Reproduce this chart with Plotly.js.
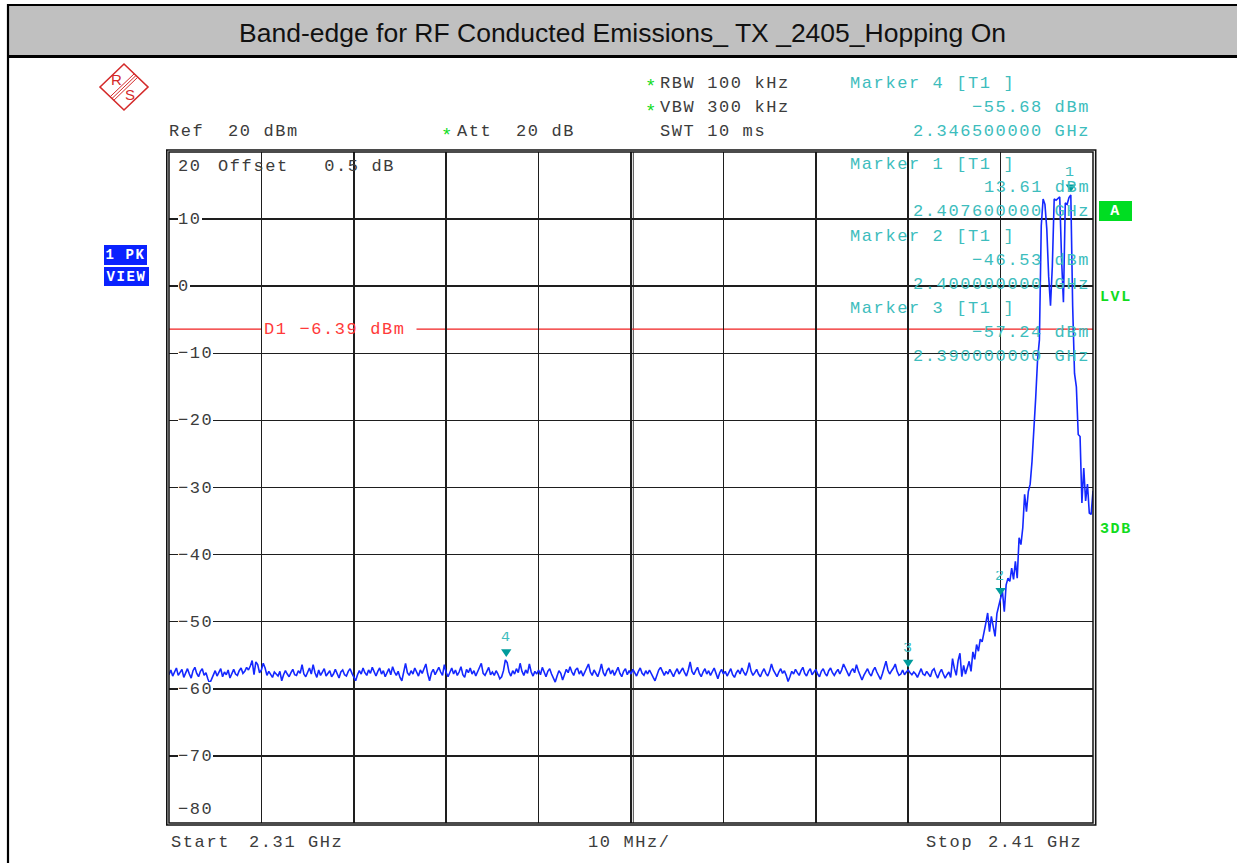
<!DOCTYPE html>
<html>
<head>
<meta charset="utf-8">
<script src="https://cdn.plot.ly/plotly-3.0.1.min.js"></script>
<style>
html,body{margin:0;padding:0;background:#fff;}
#chart{width:1237px;height:863px;}
.annotation-text{letter-spacing:1.6px;}
</style>
</head>
<body>
<div id="chart"></div>
<script>
// ---------------- DATA ----------------
const titleText = 'Band-edge for RF Conducted Emissions_ TX _2405_Hopping On';
const startGHz = 2.31;
const stopGHz = 2.41;
const sweepPoints = 501;
// trace 1 (peak detector) level in dBm, one value per sweep point (0.2 MHz apart)
const levelDbm = [
-57.9,-57.2,-58.1,-57.4,-56.9,-58.0,-57.6,-57.1,-58.3,-57.5,-57.0,-57.8,-58.4,-57.3,-56.8,-57.7,-58.2,-57.4,-57.0,-58.0,-57.6,-58.5,-59.2,-58.6,-57.8,
-57.3,-58.1,-57.6,-57.0,-58.2,-57.5,-57.9,-57.2,-58.4,-57.6,-57.1,-57.8,-58.0,-57.3,-56.9,-57.7,-57.4,-56.8,-57.2,-56.6,-55.8,-57.9,-56.0,-56.4,-57.6,
-57.2,-56.2,-56.9,-58.0,-57.4,-57.9,-58.3,-57.5,-57.8,-58.1,-57.4,-58.8,-57.9,-57.3,-57.8,-58.2,-57.6,-57.1,-57.9,-58.0,-57.3,-57.7,-56.4,-57.8,-58.2,
-57.5,-56.9,-57.8,-56.4,-57.6,-58.3,-57.2,-58.0,-57.5,-57.0,-58.1,-57.7,-57.3,-58.2,-57.8,-57.1,-57.9,-58.4,-57.5,-57.2,-57.9,-58.1,-57.4,-57.0,-57.7,
-58.2,-58.8,-57.9,-57.3,-57.8,-56.9,-57.6,-58.0,-57.2,-57.7,-56.8,-57.5,-58.1,-57.4,-56.9,-57.8,-57.3,-58.2,-57.6,-57.0,-57.9,-56.7,-57.5,-58.0,-57.4,
-58.3,-58.8,-57.4,-56.2,-57.6,-58.0,-57.3,-57.8,-56.9,-57.5,-58.1,-57.2,-57.7,-57.0,-56.3,-57.8,-58.8,-57.6,-57.1,-57.9,-57.3,-56.8,-57.5,-58.0,-56.4,
-57.6,-58.2,-57.4,-56.9,-57.8,-57.2,-58.0,-57.5,-56.7,-57.9,-58.3,-57.1,-57.6,-56.9,-57.8,-57.3,-58.1,-57.5,-57.0,-56.2,-57.7,-58.0,-57.4,-56.8,-57.9,
-57.5,-58.0,-57.3,-57.8,-58.5,-58.2,-57.3,-55.7,-56.1,-57.5,-58.1,-57.3,-57.8,-57.0,-57.6,-56.2,-57.4,-58.0,-57.2,-57.7,-56.3,-57.5,-58.1,-57.4,-57.8,
-57.2,-57.9,-56.8,-57.6,-58.2,-57.4,-57.0,-57.8,-58.3,-59.0,-58.1,-57.3,-57.7,-58.7,-57.9,-57.1,-57.6,-56.7,-57.5,-58.0,-57.2,-56.9,-57.8,-57.3,-58.1,
-57.4,-57.0,-56.3,-57.5,-58.0,-57.2,-57.7,-58.2,-57.4,-56.3,-57.6,-58.1,-57.3,-56.9,-57.8,-57.2,-58.0,-57.5,-56.8,-57.7,-58.2,-57.4,-57.0,-57.9,-57.3,
-57.8,-57.1,-57.6,-58.1,-57.4,-56.9,-57.7,-58.0,-57.3,-57.8,-57.2,-57.9,-58.3,-58.8,-57.8,-57.2,-56.8,-57.5,-58.0,-57.4,-57.8,-57.1,-57.6,-58.2,-57.5,
-57.0,-57.8,-57.3,-56.9,-57.6,-58.1,-57.2,-56.0,-57.4,-57.9,-57.3,-56.8,-57.7,-58.2,-57.5,-57.0,-57.8,-57.3,-58.0,-57.4,-56.9,-57.7,-58.5,-57.6,-57.1,
-57.8,-57.4,-58.1,-57.5,-57.0,-57.9,-58.3,-57.6,-57.2,-57.8,-56.9,-57.5,-58.0,-57.3,-56.1,-57.4,-58.0,-57.6,-57.1,-57.8,-58.2,-57.5,-57.0,-57.7,-58.1,
-57.4,-56.3,-57.2,-57.8,-58.2,-57.5,-57.0,-57.7,-57.3,-58.0,-58.9,-58.2,-57.4,-57.8,-57.1,-57.6,-58.0,-57.3,-56.8,-57.7,-58.1,-57.4,-57.0,-57.9,-57.5,
-57.1,-57.8,-58.2,-57.4,-57.0,-57.7,-58.1,-57.3,-56.9,-57.6,-58.0,-57.5,-57.1,-57.8,-57.2,-56.3,-57.0,-57.7,-58.1,-57.4,-57.0,-57.6,-56.4,-57.3,-57.9,
-58.7,-58.0,-57.4,-57.0,-57.7,-58.1,-57.3,-56.8,-57.5,-58.2,-58.6,-57.8,-57.0,-55.9,-57.2,-57.8,-57.3,-56.9,-56.3,-57.4,-58.0,-57.8,-57.2,-57.9,-57.5,
-57.2,-57.6,-57.9,-57.5,-57.8,-58.3,-57.6,-57.0,-57.8,-58.0,-57.4,-57.9,-58.2,-57.3,-57.0,-57.8,-58.4,-57.6,-57.1,-57.8,-58.4,-57.9,-57.5,-58.3,-55.5,
-57.0,-58.0,-55.8,-54.7,-58.2,-56.5,-57.8,-56.9,-55.9,-57.4,-54.5,-55.6,-53.4,-54.4,-52.6,-53.0,-51.8,-50.2,-48.7,-51.5,-49.2,-50.5,-52.2,-48.8,-47.4,
-46.5,-45.5,-48.5,-44.5,-43.5,-44.0,-42.0,-43.7,-41.0,-43.5,-37.5,-38.5,-36.0,-31.0,-33.6,-30.6,-29.5,-26.1,-21.8,-16.6,-11.0,-8.0,9.0,13.0,12.2,
8.5,1.5,-2.9,3.0,13.0,12.8,13.0,13.3,4.0,-2.4,12.4,12.2,13.2,13.6,-3.0,-13.0,-15.0,-22.1,-22.4,-32.3,-27.1,-32.0,-29.5,-33.8,-34.0,-30.5
];
// markers
const markerId = ['1', '2', '3', '4'];
const markerFreqGHz = [2.4076, 2.4000, 2.3900, 2.3465];
const markerLevelDbm = [13.61, -46.53, -57.24, -55.68];
const markerListOrder = [3, 0, 1, 2]; // Marker 4, Marker 1, Marker 2, Marker 3
// display line
const displayLineName = 'D1';
const displayLineDbm = -6.39;
// y-axis level labels
const yTickVals = [20, 10, 0, -10, -20, -30, -40, -50, -60, -70, -80];
const yTickText = ['20', '10', '0', '\u221210', '\u221220', '\u221230', '\u221240', '\u221250', '\u221260', '\u221270', '\u221280'];
// instrument settings text
const refText = 'Ref  20 dBm';
const attText = 'Att  20 dB';
const rbwText = 'RBW 100 kHz';
const vbwText = 'VBW 300 kHz';
const swtText = 'SWT 10 ms';
const offsetText = 'Offset   0.5 dB';
const startLabel = ['Start', '2.31 GHz'];
const spanLabel = '10 MHz/';
const stopLabel = ['Stop', '2.41 GHz'];

// ---------------- BUILD ----------------
const freqGHz = levelDbm.map((_, i) => startGHz + i * (stopGHz - startGHz) / (sweepPoints - 1));

const L = 169, R = 1093, T = 152, B = 823;
const px = x => (x - L) / (R - L);
const py = y => (B - y) / (B - T);
const MONO = 'Liberation Mono, DejaVu Sans Mono, monospace';
const GRAY = '#3c3c3c';
const CYAN = '#3dbdbd';
const GREEN = '#12dc1e';
const RED = '#ff3a3a';
const minus = s => s.replace(/-/g, '\u2212');

function note(text, x, y, opt) {
  return Object.assign({
    xref: 'paper', yref: 'paper', x: px(x), y: py(y), text: text,
    showarrow: false, xanchor: 'left', yanchor: 'middle',
    borderpad: 0, borderwidth: 0,
    font: {family: MONO, size: 17, color: GRAY}
  }, opt || {});
}

const ann = [];
// settings
const star = {xanchor: 'center', font: {family: MONO, size: 19, color: GREEN}};
ann.push(note(refText, 168.5, 132));
ann.push(note('*', 447, 135.5, star));
ann.push(note(attText, 457, 132));
ann.push(note('*', 651, 87.5, star));
ann.push(note(rbwText, 659.5, 83));
ann.push(note('*', 651, 112, star));
ann.push(note(vbwText, 659.5, 108));
ann.push(note(swtText, 659.5, 132));
ann.push(note(offsetText, 217.5, 166));

// y level labels inside plot
yTickVals.forEach((v, i) => {
  const shift = v === yTickVals[0] ? -14 : (v === yTickVals[yTickVals.length - 1] ? 14 : 0);
  ann.push({xref: 'paper', yref: 'y', x: px(178), y: v, yshift: shift, text: yTickText[i],
    showarrow: false, xanchor: 'left', yanchor: 'middle', borderpad: 0, borderwidth: 0,
    bgcolor: '#ffffff', height: 14, font: {family: MONO, size: 17, color: GRAY}});
});

// bottom labels
ann.push(note(startLabel[0], 171, 842.5));
ann.push(note(startLabel[1], 248.5, 842.5));
ann.push(note(spanLabel, 588, 842.5));
ann.push(note(stopLabel[0], 925.5, 842.5));
ann.push(note(stopLabel[1], 988, 842.5));

// marker info list
const blockY = [84, 164, 236, 308];
markerListOrder.forEach((m, k) => {
  const y0 = blockY[k];
  ann.push(note('Marker ' + markerId[m] + ' [T1 ]', 850, y0, {font: {family: MONO, size: 17, color: CYAN}}));
  ann.push(note(minus(markerLevelDbm[m].toFixed(2)) + ' dBm', 1089.5, y0 + 24, {xanchor: 'right', font: {family: MONO, size: 17, color: CYAN}}));
  ann.push(note(markerFreqGHz[m].toFixed(9) + ' GHz', 1089.5, y0 + 48, {xanchor: 'right', font: {family: MONO, size: 17, color: CYAN}}));
});

// marker numbers above the trace
markerId.forEach((id, i) => {
  ann.push({xref: 'x', yref: 'y', x: markerFreqGHz[i], y: markerLevelDbm[i], yshift: 22,
    text: id, showarrow: false, xanchor: 'center', yanchor: 'middle', height: 11,
    borderpad: 0, borderwidth: 0,
    font: {family: MONO, size: 15, color: CYAN}});
});

// display line label
ann.push({xref: 'paper', yref: 'y', x: px(263.5), y: displayLineDbm,
  text: displayLineName + ' ' + minus(displayLineDbm.toFixed(2)) + ' dBm',
  showarrow: false, xanchor: 'left', yanchor: 'middle', borderpad: 0, borderwidth: 0,
  font: {family: MONO, size: 17, color: RED}});

// side indicators
ann.push(note('<b>1 PK</b>', 125.7, 255, {xanchor: 'center', width: 43, height: 20, bgcolor: '#0a22ff', align: 'center', font: {family: MONO, size: 14, color: '#ffffff'}}));
ann.push(note('<b>VIEW</b>', 126.7, 276.2, {xanchor: 'center', width: 45, height: 19, bgcolor: '#0a22ff', align: 'center', font: {family: MONO, size: 14, color: '#ffffff'}}));
ann.push(note('<b>A</b>', 1115.5, 211, {xanchor: 'center', width: 33, height: 20, bgcolor: '#00dd22', align: 'center', font: {family: MONO, size: 15, color: '#ffffff'}}));
ann.push(note('<b>LVL</b>', 1100, 297, {font: {family: MONO, size: 15, color: GREEN}}));
ann.push(note('<b>3DB</b>', 1100, 529.5, {font: {family: MONO, size: 15, color: GREEN}}));

// R&S logo letters
ann.push(note('R', 116.6, 79.5, {xanchor: 'center', font: {family: 'Liberation Sans', size: 15, color: '#d42a2a'}}));
ann.push(note('S', 130.6, 94.5, {xanchor: 'center', font: {family: 'Liberation Sans', size: 15, color: '#d42a2a'}}));

// ---------------- SHAPES ----------------
const P = (x, y) => px(x).toFixed(5) + ',' + py(y).toFixed(5);
const LOGO = '#d42a2a';
const shapes = [
  // title band
  {type: 'rect', xref: 'paper', yref: 'paper', x0: px(8), x1: px(1245), y0: py(56), y1: py(5), fillcolor: '#c0c0c0', line: {width: 0}, layer: 'below'},
  {type: 'line', xref: 'paper', yref: 'paper', x0: px(7), x1: px(1245), y0: py(5), y1: py(5), line: {color: '#000', width: 2.2}},
  {type: 'line', xref: 'paper', yref: 'paper', x0: px(7), x1: px(1245), y0: py(56.5), y1: py(56.5), line: {color: '#000', width: 3}},
  {type: 'line', xref: 'paper', yref: 'paper', x0: px(8), x1: px(8), y0: py(4), y1: py(875), line: {color: '#000', width: 2.2}},
  // plot frames (double line)
  {type: 'rect', xref: 'paper', yref: 'paper', x0: px(166.8), x1: px(1095.7), y0: py(825), y1: py(150), line: {color: '#111', width: 1.6}, fillcolor: 'rgba(0,0,0,0)', layer: 'above'},
  {type: 'rect', xref: 'paper', yref: 'paper', x0: 0, x1: 1, y0: 0, y1: 1, line: {color: '#111', width: 1.5}, fillcolor: 'rgba(0,0,0,0)', layer: 'above'},
  {type: 'line', xref: 'paper', yref: 'paper', x0: px(633.4), x1: px(633.4), y0: 0, y1: 1, line: {color: '#666', width: 1.2}, layer: 'below'},
  // display line D1 (broken around its label)
  {type: 'line', xref: 'paper', yref: 'y', x0: 0, x1: px(261), y0: displayLineDbm, y1: displayLineDbm, line: {color: '#f02020', width: 1.2}, layer: 'below'},
  {type: 'line', xref: 'paper', yref: 'y', x0: px(416.5), x1: 1, y0: displayLineDbm, y1: displayLineDbm, line: {color: '#f02020', width: 1.2}, layer: 'below'},
  // R&S logo
  {type: 'path', xref: 'paper', yref: 'paper', path: 'M' + P(100, 87) + 'L' + P(124, 64) + 'L' + P(148, 87) + 'L' + P(124, 110) + 'Z', line: {color: LOGO, width: 1.6}},
  {type: 'path', xref: 'paper', yref: 'paper', path: 'M' + P(134.2, 73.8) + 'L' + P(110.3, 96.6), line: {color: LOGO, width: 1}},
  {type: 'path', xref: 'paper', yref: 'paper', path: 'M' + P(136, 75.5) + 'L' + P(112, 98.5), line: {color: LOGO, width: 1}},
  {type: 'path', xref: 'paper', yref: 'paper', path: 'M' + P(137.8, 77.2) + 'L' + P(113.8, 100.3), line: {color: LOGO, width: 1}}
];
// marker triangles, anchored on the marker positions (pixel-sized)
markerId.forEach((id, i) => {
  shapes.push({type: 'path', xref: 'x', yref: 'y', xsizemode: 'pixel', ysizemode: 'pixel',
    xanchor: markerFreqGHz[i], yanchor: markerLevelDbm[i],
    path: 'M-5.2,10.5L5.2,10.5L0,2.8Z', fillcolor: '#009c9c', line: {width: 0}, layer: 'above'});
});

const trace = {
  type: 'scatter', mode: 'lines', x: freqGHz, y: levelDbm,
  line: {color: '#1428ff', width: 1.6}, hoverinfo: 'skip', showlegend: false
};

const axisCommon = {showgrid: true, gridcolor: '#1e1e1e', gridwidth: 1.5, zeroline: false,
  showticklabels: false, ticks: '', showline: false, fixedrange: true};

const layout = {
  width: 1237, height: 863,
  margin: {l: L, r: 1237 - R, t: T, b: 863 - B, pad: 0},
  paper_bgcolor: '#ffffff', plot_bgcolor: '#ffffff',
  showlegend: false,
  title: {text: titleText, font: {family: 'Liberation Sans, Arial, sans-serif', size: 26.5, color: '#111'},
    xref: 'container', yref: 'container', x: 622.5 / 1237, y: 1 - 33 / 863, xanchor: 'center', yanchor: 'middle'},
  xaxis: Object.assign({range: [startGHz, stopGHz], tick0: startGHz, dtick: 0.01}, axisCommon),
  yaxis: Object.assign({range: [-80, 20], tick0: 0, dtick: 10}, axisCommon),
  shapes: shapes,
  annotations: ann
};

Plotly.newPlot('chart', [trace], layout, {staticPlot: true, displayModeBar: false});
</script>
</body>
</html>
